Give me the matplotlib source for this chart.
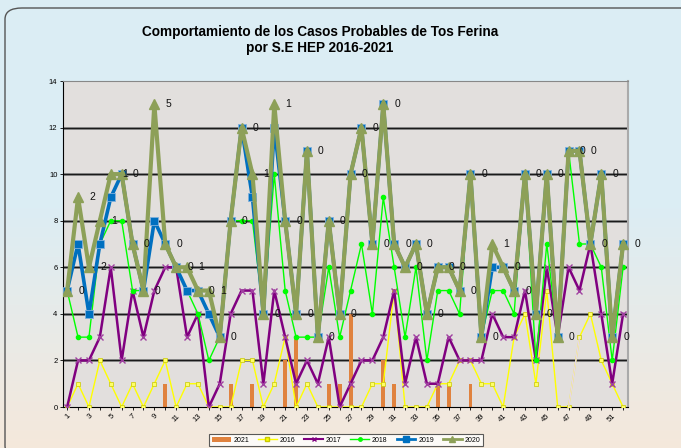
import numpy as np
import matplotlib
matplotlib.use("Agg")
import matplotlib.pyplot as plt
from matplotlib.patches import FancyBboxPatch
from matplotlib.lines import Line2D
from matplotlib.patches import Patch

plt.rcParams["font.family"] = ["Liberation Sans", "DejaVu Sans"]

weeks = list(range(1, 53))

cases_2021 = [0, 0, 0, 0, 0, 0, 0, 0, 0, 1, 0, 0, 0, 0, 0, 1, 0, 1, 0, 0,
              2, 3, 0, 0, 1, 1, 4, 0, 0, 2, 1, 0, 0, 0, 1, 1, 0, 1, 0, 0,
              0, 0, 0, 0, 0, 0, 0, 0, 0, 0, 0, 0]
cases_2016 = [0, 1, 0, 2, 1, 0, 1, 0, 1, 2, 0, 1, 1, 0, 0, 0, 2, 2, 0, 1,
              3, 0, 1, 0, 0, 0, 0, 0, 1, 1, 5, 0, 0, 0, 1, 1, 2, 2, 1, 1,
              0, 3, 4, 1, 5, 0, 0, 3, 4, 2, 1, 0]
cases_2017 = [0, 2, 2, 3, 6, 2, 5, 3, 5, 6, 6, 3, 4, 0, 1, 4, 5, 5, 1, 5,
              3, 1, 2, 1, 3, 0, 1, 2, 2, 3, 5, 1, 3, 1, 1, 3, 2, 2, 2, 4,
              3, 3, 5, 2, 6, 3, 6, 5, 7, 4, 1, 4]
cases_2018 = [5, 3, 3, 7, 8, 8, 5, 5, 8, 7, 6, 5, 4, 2, 3, 8, 8, 8, 4, 10,
              5, 3, 3, 3, 6, 3, 5, 7, 4, 9, 6, 3, 6, 2, 5, 5, 4, 10, 3, 5,
              5, 4, 10, 2, 7, 3, 11, 7, 7, 6, 2, 6]
cases_2019 = [5, 7, 4, 7, 9, 10, 7, 5, 8, 7, 6, 5, 5, 4, 3, 8, 12, 9, 4, 12,
              8, 4, 11, 3, 8, 4, 10, 12, 7, 13, 7, 6, 7, 4, 6, 6, 5, 10, 3, 6,
              6, 5, 10, 4, 10, 3, 11, 11, 7, 10, 3, 7]
cases_2020 = [5, 9, 6, 8, 10, 10, 7, 5, 13, 7, 6, 6, 5, 5, 3, 8, 12, 10, 4, 13,
              8, 4, 11, 3, 8, 4, 10, 12, 7, 13, 7, 6, 7, 4, 6, 6, 5, 10, 3, 7,
              6, 5, 10, 4, 10, 3, 11, 11, 7, 10, 3, 7]
point_labels = ["0", "2", "2", "1", "1", "0", "0", "0", "5", "0", "0", "1", "0", "1",
                "0", "0", "0", "1", "0", "1", "0", "0", "0", "0", "0", "0", "0", "0",
                "0", "0", "0", "0", "0", "0", "0", "0", "0", "0", "0", "1", "0", "0",
                "0", "0", "0", "0", "0", "0", "0", "0", "0", "0"]

W, H = 681, 448
fig = plt.figure(figsize=(W / 100, H / 100), dpi=100)

# background gradient (light blue top -> peach bottom)
bg = fig.add_axes([0, 0, 1, 1], zorder=-10)
top = np.array([0.86, 0.93, 0.96])
bot = np.array([0.96, 0.91, 0.86])
t = np.linspace(0, 1, 256)[:, None]
t = np.clip((t - 0.45) / 0.55, 0, 1)
grad = top[None, None, :] * (1 - t[:, :, None]) + bot[None, None, :] * t[:, :, None]
bg.imshow(grad, aspect="auto", extent=[0, 1, 0, 1], origin="upper")
bg.set_xlim(0, 1)
bg.set_ylim(0, 1)
bg.axis("off")
bg.add_patch(FancyBboxPatch((5 / W, -0.02), 1.05, (H - 8) / H + 0.02,
                            boxstyle="round,pad=0,rounding_size=0.025",
                            transform=bg.transAxes, fill=False,
                            edgecolor="#555555", lw=1.0, clip_on=False))

ax = fig.add_axes([63 / W, (H - 407) / H, 565 / W, 326 / H])
ax.set_facecolor("#E2DFDD")

x = np.array(weeks)
ax.bar(x, cases_2021, width=0.36, color="#E0823E", zorder=2)
ax.plot(x, cases_2016, color="#FFFF00", lw=1.0, marker="s", ms=2.5,
        mfc="#FFFF66", mec="#C8C800", mew=0.5, zorder=3)
ax.plot(x[46:48], cases_2016[46:48], color="#E8D8E8", lw=1.0, zorder=3)
ax.plot(x, cases_2017, color="#800080", lw=1.8, marker="x", ms=4, mew=1.0,
        mec="#A040A0", zorder=4)
ax.plot(x, cases_2018, color="#00FF00", lw=1.0, marker="o", ms=3, zorder=5)
ax.plot(x, cases_2019, color="#0070C0", lw=2.6, marker="s", ms=6,
        mec="#7FB0DC", mew=0.6, zorder=6)
ax.plot(x, cases_2020, color="#8DA058", lw=3.0, marker="^", ms=7,
        mec="#8DA058", zorder=7)

for wk, yv, lab in zip(weeks, cases_2020, point_labels):
    ax.annotate(lab, (wk, yv), xytext=(8, 0), textcoords="offset points",
                ha="left", va="center", fontsize=7.5, color="#111111", zorder=8)

ax.set_xlim(0.62, 52.45)
ax.set_ylim(0, 14)
ax.set_yticks(range(0, 15, 2))
ax.set_yticklabels([str(v) for v in range(0, 15, 2)], fontsize=5.5)
ax.set_xticks(weeks)
ax.set_xticklabels([str(w) if w % 2 == 1 else "" for w in weeks], fontsize=5.5,
                   rotation=45, ha="right", va="top", rotation_mode="anchor")
ax.tick_params(axis="both", length=2, width=0.6, pad=2)
for v in range(2, 14, 2):
    ax.axhline(v, color="#808080", lw=2.0, zorder=1)
    ax.axhline(v, color="#1A1A1A", lw=0.8, zorder=1)
ax.spines["left"].set_color("black")
ax.spines["bottom"].set_color("black")
ax.spines["top"].set_color("#888888")
ax.spines["right"].set_color("#AAAAAA")
ax.spines["right"].set_linewidth(1.5)

fig.text(0.47, (H - 40) / H, "Comportamiento de los Casos Probables de Tos Ferina\npor S.E HEP 2016-2021",
         ha="center", va="center", fontsize=9.8, fontweight="bold", linespacing=1.15)

handles = [
    Patch(facecolor="#E0823E", label="2021"),
    Line2D([], [], color="#FFFF00", lw=1, marker="s", ms=2.5, mec="#C8C800", label="2016"),
    Line2D([], [], color="#800080", lw=1.5, marker="x", ms=3, label="2017"),
    Line2D([], [], color="#00FF00", lw=1, marker="o", ms=2.5, label="2018"),
    Line2D([], [], color="#0070C0", lw=2, marker="s", ms=4, label="2019"),
    Line2D([], [], color="#8DA058", lw=2, marker="^", ms=4, label="2020"),
]
leg = fig.legend(handles=handles, loc="center", bbox_to_anchor=(346 / W, (H - 440) / H),
                 ncol=6, fontsize=5, frameon=True, fancybox=False, edgecolor="#333333",
                 handlelength=2.7, columnspacing=1.3, handletextpad=0.4,
                 borderpad=0.35)
leg.get_frame().set_facecolor("white")
leg.get_frame().set_linewidth(0.8)

fig.savefig("out.png", dpi=100)
